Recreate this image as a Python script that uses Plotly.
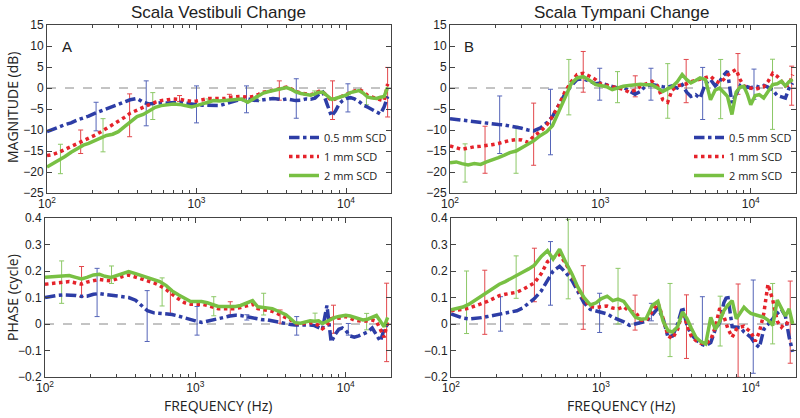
import plotly.graph_objects as go

# ---------------- data ----------------
freq = [100, 110, 120, 132, 145, 160, 175, 190, 210, 230,
        250, 275, 300, 330, 360, 400, 440, 480, 530, 580,
        640, 700, 770, 850, 930, 1000, 1100, 1200, 1300, 1420,
        1550, 1700, 1850, 2000, 2200, 2400, 2600, 2800, 3000, 3250,
        3500, 3750, 4000, 4300, 4600, 5000, 5400, 5800, 6200, 6600,
        7000, 7500, 8000, 8500, 9000, 9500, 10000, 10700, 11400, 12200,
        13000, 14000, 15000, 16000, 17000, 18000, 19000]

series_names = ["0.5 mm SCD", "1 mm SCD", "2 mm SCD"]

# Panel A: Scala Vestibuli magnitude (dB)
sv_mag_05 = [-10.4, -9.9, -9.3, -8.7, -8.3, -7.6, -7.2, -6.7, -6.0, -5.5,
             -5.1, -4.5, -3.9, -3.3, -2.8, -2.5, -3.4, -3.8, -3.6, -3.5,
             -3.6, -3.5, -3.4, -3.6, -3.9, -4.0, -4.1, -4.2, -4.3, -4.2,
             -3.8, -3.3, -3.0, -2.8, -2.6, -2.9, -3.0, -2.8, -2.6, -2.5,
             -2.6, -2.8, -2.6, -2.8, -3.0, -2.9, -2.6, -2.7, -2.4, -1.5,
             -1.0, -4.0, -6.7, -5.5, -3.8, -3.0, -2.5, -2.3, -2.6, -3.2,
             -4.0, -4.6, -5.2, -5.8, -6.2, -4.5, -2.0]
sv_mag_1 = [-16.1, -15.8, -15.3, -14.6, -14.0, -13.3, -12.6, -12.0, -11.2, -10.4,
            -9.6, -8.8, -8.0, -7.0, -6.0, -5.2, -4.6, -4.0, -3.4, -3.0,
            -2.8, -2.6, -2.7, -3.0, -3.2, -3.1, -2.8, -2.5, -2.5, -2.6,
            -2.5, -2.2, -2.0, -2.0, -2.2, -2.0, -1.5, -1.0, -0.8, -0.5,
            -0.4, -0.1, 0.2, -0.2, -0.8, -1.2, -1.5, -1.6, -1.3, -0.8,
            -0.9, -2.0, -3.0, -2.6, -2.2, -2.0, -1.6, -1.0, -0.7, -0.4,
            -0.8, -1.8, -2.2, -2.5, -2.8, -3.0, 1.0]
sv_mag_2 = [-18.8, -18.0, -17.2, -16.3, -15.3, -14.3, -13.6, -13.2, -12.5, -11.8,
            -11.3, -11.0, -10.4, -9.2, -8.0, -6.8, -6.3, -5.6, -4.6, -4.2,
            -3.9, -3.8, -3.9, -4.3, -4.5, -4.2, -3.8, -3.3, -3.0, -3.1,
            -3.0, -2.8, -2.6, -2.6, -3.4, -2.6, -1.8, -1.2, -0.9, -0.6,
            -0.4, -0.2, 0.1, -0.3, -0.9, -1.3, -1.6, -1.7, -1.4, -1.0,
            -1.0, -2.0, -2.7, -2.5, -2.2, -2.0, -1.7, -1.1, -0.8, -0.6,
            -1.2, -2.2, -2.4, -2.5, -2.2, -2.0, 0.2]

# Panel A: Scala Vestibuli phase (cycle)
sv_ph_05 = [0.100, 0.105, 0.108, 0.110, 0.110, 0.108, 0.104, 0.105, 0.112, 0.115,
            0.112, 0.108, 0.105, 0.103, 0.100, 0.090, 0.070, 0.050, 0.042, 0.040,
            0.038, 0.036, 0.030, 0.022, 0.016, 0.012, 0.006, 0.010, 0.016, 0.020,
            0.025, 0.030, 0.033, 0.032, 0.028, 0.024, 0.018, 0.016, 0.016, 0.012,
            0.006, 0.003, 0.000, -0.002, -0.004, -0.003, -0.002, -0.004, -0.006, -0.012,
            -0.020, 0.070, -0.068, -0.040, -0.020, -0.015, -0.025, -0.045, -0.050, -0.045,
            -0.038, -0.030, -0.015, -0.040, -0.065, -0.020, 0.000]
sv_ph_1 = [0.150, 0.152, 0.155, 0.158, 0.160, 0.155, 0.150, 0.158, 0.165, 0.168,
           0.165, 0.163, 0.170, 0.180, 0.185, 0.178, 0.170, 0.163, 0.155, 0.145,
           0.130, 0.112, 0.095, 0.080, 0.075, 0.075, 0.075, 0.070, 0.063, 0.058,
           0.058, 0.058, 0.058, 0.062, 0.068, 0.075, 0.058, 0.055, 0.052, 0.048,
           0.040, 0.032, 0.025, 0.015, 0.002, 0.000, 0.003, 0.005, 0.002, -0.005,
           -0.018, -0.005, 0.020, 0.025, 0.022, 0.025, 0.028, 0.022, 0.015, 0.012,
           0.010, 0.012, 0.015, 0.010, -0.020, -0.050, 0.010]
sv_ph_2 = [0.176, 0.178, 0.180, 0.182, 0.183, 0.176, 0.170, 0.176, 0.185, 0.188,
           0.180, 0.176, 0.183, 0.192, 0.198, 0.190, 0.182, 0.175, 0.168, 0.160,
           0.145, 0.125, 0.110, 0.095, 0.085, 0.085, 0.085, 0.080, 0.072, 0.066,
           0.066, 0.066, 0.066, 0.070, 0.078, 0.088, 0.065, 0.063, 0.062, 0.058,
           0.050, 0.042, 0.035, 0.020, 0.005, 0.003, 0.008, 0.012, 0.010, 0.012,
           0.002, 0.010, 0.020, 0.025, 0.028, 0.030, 0.033, 0.030, 0.025, 0.020,
           0.015, 0.018, 0.025, 0.032, 0.010, -0.010, 0.025]

# Panel B: Scala Tympani magnitude (dB)
st_mag_05 = [-7.3, -7.5, -7.7, -7.9, -8.1, -8.3, -8.5, -8.6, -8.7, -8.8,
             -9.0, -9.3, -9.6, -10.0, -10.2, -9.5, -8.3, -6.8, -4.0, -1.5,
             0.5, 2.0, 2.2, 1.5, 1.0, 1.2, 0.8, 0.4, 0.0, 0.2,
             -0.6, -1.5, -0.8, 0.5, 0.8, 0.5, 0.3, 0.2, 0.5, 0.0,
             0.8, -1.0, -2.0, -1.6, -2.4, 1.0, 2.0, 0.5, 1.5, 3.0,
             4.0, -3.6, -1.5, 0.5, -0.5, 0.3, 0.0, 0.5, 0.2, 0.6,
             0.2, -0.5, -1.8, -2.0, -2.4, 0.0, 1.2]
st_mag_1 = [-13.8, -14.3, -14.6, -14.3, -14.0, -13.9, -13.8, -13.5, -13.2, -12.8,
            -12.5, -12.3, -12.4, -12.9, -11.5, -10.3, -8.8, -6.8, -4.0, -1.0,
            1.5, 3.2, 3.5, 2.8, 2.0, 1.0, 0.6, 0.3, 0.1, -0.3,
            -1.0, -0.5, 0.4, 1.0, 1.6, 0.5, -2.8, -3.4, -0.5, 0.5,
            0.8, 1.0, 1.5, 1.8, 2.2, 2.5, 2.8, 1.8, 1.2, 2.0,
            3.0, 3.8, 4.4, 2.0, 0.5, 0.2, 0.0, -0.3, 0.0, 0.3,
            1.5, 3.5, 2.8, 1.6, 0.5, 0.8, 3.2]
st_mag_2 = [-17.8, -17.6, -18.0, -18.3, -18.0, -18.2, -17.6, -17.2, -16.6, -16.0,
            -15.4, -15.0, -14.3, -13.4, -12.6, -11.3, -10.4, -9.0, -5.5, -2.0,
            1.0, 2.4, 2.7, 1.8, 0.8, 0.6, 0.3, -0.4, 0.0, 0.4,
            0.6, 0.8, 0.9, 0.8, 0.8, 0.0, -0.8, -0.2, 0.3, 1.5,
            3.2, 2.0, 1.2, 1.8, 2.4, 2.0, -2.8, -0.5, 0.0, -1.0,
            -2.0, -6.3, -1.0, 0.2, 0.4, -1.5, -4.0, -1.8, -1.6, -2.4,
            -1.0, 0.8, 1.0, 1.6, 0.5, 1.5, 2.0]

# Panel B: Scala Tympani phase (cycle)
st_ph_05 = [0.038, 0.028, 0.022, 0.019, 0.020, 0.024, 0.028, 0.032, 0.038, 0.042,
            0.046, 0.050, 0.060, 0.080, 0.096, 0.125, 0.165, 0.200, 0.218, 0.195,
            0.165, 0.125, 0.080, 0.055, 0.048, 0.045, 0.038, 0.025, 0.018, 0.008,
            -0.005, 0.000, 0.004, 0.010, 0.035, 0.060, 0.020, -0.050, -0.045, 0.000,
            0.065, -0.005, -0.040, -0.060, -0.075, -0.082, -0.070, -0.020, 0.005, 0.080,
            0.110, -0.010, -0.012, -0.013, -0.030, -0.040, -0.050, -0.075, -0.088, -0.020,
            0.000, 0.020, 0.040, 0.055, 0.030, -0.050, -0.105]
st_ph_1 = [0.050, 0.052, 0.055, 0.060, 0.068, 0.075, 0.085, 0.095, 0.107, 0.112,
           0.116, 0.120, 0.130, 0.145, 0.155, 0.190, 0.235, 0.250, 0.262, 0.230,
           0.185, 0.135, 0.095, 0.065, 0.063, 0.065, 0.068, 0.060, 0.057, 0.065,
           0.048, 0.045, 0.015, 0.012, 0.048, 0.080, 0.020, -0.045, -0.055, -0.020,
           0.045, 0.000, -0.045, -0.063, -0.072, -0.075, -0.060, -0.010, 0.060, 0.030,
           -0.015, -0.050, -0.020, -0.012, -0.008, -0.020, -0.030, -0.065, -0.030, 0.040,
           0.150, 0.090, 0.010, -0.012, 0.006, 0.000, 0.013]
st_ph_2 = [0.054, 0.058, 0.064, 0.075, 0.090, 0.108, 0.122, 0.135, 0.150, 0.160,
           0.170, 0.182, 0.195, 0.208, 0.222, 0.255, 0.277, 0.245, 0.282, 0.235,
           0.190, 0.140, 0.100, 0.072, 0.080, 0.095, 0.105, 0.088, 0.094, 0.085,
           0.055, 0.025, 0.018, 0.020, 0.070, 0.085, 0.010, -0.025, -0.030, -0.010,
           0.045, 0.020, -0.015, -0.050, -0.065, -0.075, 0.025, -0.020, 0.010, 0.050,
           0.070, 0.088, 0.020, 0.045, 0.063, 0.050, 0.040, 0.035, 0.030, 0.025,
           0.015, -0.005, 0.090, 0.055, 0.030, 0.057, 0.000]

# Error bars: frequency, mean, half-range
sv_mag_err = {
    "0.5 mm SCD": ([213, 461, 1000, 2160, 4650, 10300],
                   [-6.8, -3.65, -3.9, -2.7, -2.5, -2.35],
                   [3.4, 5.35, 4.4, 3.2, 4.7, 3.35]),
    "1 mm SCD": ([168, 357, 770, 1660, 3580, 8130, 18980],
                 [-12.8, -6.5, -2.5, -2.1, -0.6, -2.9, -1.0],
                 [2.8, 5.1, 0.7, 0.6, 2.3, 4.6, 5.9]),
    "2 mm SCD": ([123, 237, 510, 1195, 2570, 6170, 13700],
                 [-16.9, -11.25, -4.3, -3.2, -2.4, -1.5, -2.8],
                 [3.5, 3.95, 3.2, 0.6, 0.6, 0.8, 1.2]),
}
sv_ph_err = {
    "0.5 mm SCD": ([222, 478, 1026, 2200, 4720, 10400],
                   [0.119, 0.030, 0.012, 0.025, -0.007, -0.020],
                   [0.091, 0.096, 0.054, 0.010, 0.035, 0.022]),
    "1 mm SCD": ([175, 682, 1706, 3660, 8290, 18700],
                 [0.160, 0.081, 0.059, 0.028, 0.018, 0.006],
                 [0.057, 0.047, 0.025, 0.025, 0.053, 0.148]),
    "2 mm SCD": ([129, 277, 601, 1325, 2845, 6250, 13770],
                 [0.158, 0.186, 0.121, 0.067, 0.075, 0.025, 0.009],
                 [0.080, 0.033, 0.053, 0.036, 0.041, 0.016, 0.031]),
}
st_mag_err = {
    "0.5 mm SCD": ([214, 466, 990, 2170, 4790, 10510],
                   [-8.75, -8.1, 0.9, 0.9, -1.3, 0.9],
                   [6.85, 7.8, 3.8, 3.8, 6.2, 3.6]),
    "1 mm SCD": ([171, 360, 769, 1706, 3720, 8220, 18710],
                 [-14.7, -11.0, 3.85, 0.4, 1.65, 3.35, 0.55],
                 [5.6, 7.4, 4.85, 2.5, 5.15, 4.85, 4.65]),
    "2 mm SCD": ([126, 275, 617, 1300, 2805, 6310, 13960],
                 [-17.85, -14.7, 0.2, 0.2, -0.7, -0.25, -1.5],
                 [4.55, 5.6, 6.6, 3.7, 6.5, 7.05, 8.35]),
}
st_ph_err = {
    "0.5 mm SCD": ([214, 461, 980, 2170, 4750, 10370],
                   [0.038, 0.191, 0.042, 0.045, 0.014, -0.010],
                   [0.065, 0.120, 0.074, 0.033, 0.089, 0.176]),
    "1 mm SCD": ([168, 360, 762, 1690, 3720, 8220, 18300],
                 [0.082, 0.185, 0.100, 0.043, -0.010, -0.025, 0.007],
                 [0.121, 0.101, 0.120, 0.066, 0.120, 0.176, 0.155]),
    "2 mm SCD": ([127, 272, 605, 1300, 2890, 6240, 13970],
                 [0.082, 0.177, 0.245, 0.105, 0.015, 0.011, 0.039],
                 [0.118, 0.080, 0.150, 0.105, 0.138, 0.094, 0.114]),
}

titles = ["Scala Vestibuli Change", "Scala Tympani Change"]
mag_ticks = [-25, -20, -15, -10, -5, 0, 5, 10, 15]
phase_ticks = [-0.2, -0.1, 0, 0.1, 0.2, 0.3, 0.4]
xtick_vals = [100, 1000, 10000]
xtick_text = ["10<sup>2</sup>", "10<sup>3</sup>", "10<sup>4</sup>"]
minor_vals = [200, 300, 400, 500, 600, 700, 800, 900,
              2000, 3000, 4000, 5000, 6000, 7000, 8000, 9000, 20000]

# ---------------- styling ----------------
colors = {"0.5 mm SCD": "#2d3da6", "1 mm SCD": "#e5232b", "2 mm SCD": "#78c043"}
err_colors = {"0.5 mm SCD": "#5565b8", "1 mm SCD": "#e2474c", "2 mm SCD": "#8cc866"}
dashes = {"0.5 mm SCD": "dashdot", "1 mm SCD": "dot", "2 mm SCD": "solid"}
W, H = 800, 418

def dom_x(a, b):
    return [a / W, b / W]

def dom_y(top, bottom):
    return [1 - bottom / H, 1 - top / H]

panels = [
    ("x", "y", dom_x(47, 391), dom_y(25, 193),
     {"0.5 mm SCD": sv_mag_05, "1 mm SCD": sv_mag_1, "2 mm SCD": sv_mag_2},
     sv_mag_err, [-25, 15], mag_ticks, "legend"),
    ("x2", "y2", dom_x(450, 796), dom_y(25, 193),
     {"0.5 mm SCD": st_mag_05, "1 mm SCD": st_mag_1, "2 mm SCD": st_mag_2},
     st_mag_err, [-25, 15], mag_ticks, "legend2"),
    ("x3", "y3", dom_x(45, 391), dom_y(218, 377),
     {"0.5 mm SCD": sv_ph_05, "1 mm SCD": sv_ph_1, "2 mm SCD": sv_ph_2},
     sv_ph_err, [-0.2, 0.4], phase_ticks, None),
    ("x4", "y4", dom_x(451, 796), dom_y(218, 377),
     {"0.5 mm SCD": st_ph_05, "1 mm SCD": st_ph_1, "2 mm SCD": st_ph_2},
     st_ph_err, [-0.2, 0.4], phase_ticks, None),
]

fig = go.Figure()
layout_axes = {}
shapes = []
tick_font = dict(family="Liberation Sans, Arial, sans-serif", size=12, color="#222")
for i, (xa, ya, xd, yd, series, errs, yr, yt, leg) in enumerate(panels):
    for name in series_names:
        ef, em, ee = errs[name]
        fig.add_trace(go.Scatter(
            x=ef, y=em, xaxis=xa, yaxis=ya, mode="markers",
            marker=dict(size=1, color=err_colors[name], opacity=0),
            error_y=dict(type="data", array=ee, visible=True,
                         color=err_colors[name], thickness=1, width=2.5),
            showlegend=False, hoverinfo="skip"))
    for name in series_names:
        if leg is not None:
            kw = dict(legend=leg, showlegend=True)
        else:
            kw = dict(showlegend=False)
        fig.add_trace(go.Scatter(
            x=freq, y=series[name], xaxis=xa, yaxis=ya, mode="lines",
            name=name,
            line=dict(color=colors[name], width=3.5, dash=dashes[name]),
            **kw))
    idx = "" if i == 0 else str(i + 1)
    layout_axes["xaxis" + idx] = dict(
        type="log", domain=xd, range=[2, 4.301], anchor=ya,
        tickvals=xtick_vals, ticktext=xtick_text,
        ticks="inside", ticklen=5, tickcolor="#444",
        minor=dict(ticks="inside", ticklen=3, tickvals=minor_vals, tickcolor="#444"),
        showline=True, linecolor="#444", linewidth=1, mirror="allticks",
        showgrid=False, zeroline=False, automargin=False,
        tickfont=tick_font,
    )
    layout_axes["yaxis" + idx] = dict(
        domain=yd, range=yr, anchor=xa, tickvals=yt,
        ticktext=[("−" + str(abs(v)) if v < 0 else str(v)) for v in yt],
        ticks="inside", ticklen=5, tickcolor="#444",
        showline=True, linecolor="#444", linewidth=1, mirror="allticks",
        showgrid=False, zeroline=False, automargin=False,
        tickfont=tick_font,
    )
    shapes.append(dict(type="line", xref=xa + " domain", yref=ya,
                       x0=0, x1=1, y0=0, y1=0,
                       line=dict(color="#888", width=1, dash="dash"), layer="below"))

fig.update_layout(**layout_axes)

title_font = dict(family="Liberation Sans, Arial, sans-serif", size=17, color="#222")
label_font = dict(family="Open Sans, Liberation Sans, sans-serif", size=14, color="#222")

def note(text, px, py, font, angle=0):
    return dict(text=text, x=px / W, y=1 - py / H, xref="paper", yref="paper",
                xanchor="center", yanchor="middle", showarrow=False,
                textangle=angle, font=font)

annotations = [
    note(titles[0], 218, 13, title_font),
    note(titles[1], 621, 13, title_font),
    note("MAGNITUDE (dB)", 12, 108, label_font, -90),
    note("PHASE (cycle)", 12, 298, label_font, -90),
    note("FREQUENCY (Hz)", 218, 405, label_font),
    note("FREQUENCY (Hz)", 621, 405, label_font),
    note("A", 67, 46, dict(family="Liberation Sans, Arial", size=15, color="#222")),
    note("B", 469, 46, dict(family="Liberation Sans, Arial", size=15, color="#222")),
]

legend_style = dict(font=dict(family="Open Sans, Liberation Sans, sans-serif", size=11, color="#222"),
                    bgcolor="rgba(0,0,0,0)", borderwidth=0, tracegroupgap=0,
                    xanchor="right", yanchor="bottom", itemwidth=30)

fig.update_layout(
    width=W, height=H,
    margin=dict(l=0, r=0, t=0, b=0, pad=0, autoexpand=False),
    paper_bgcolor="white", plot_bgcolor="white",
    showlegend=True,
    legend=dict(x=392 / W, y=1 - 190 / H, **legend_style),
    legend2=dict(x=797 / W, y=1 - 190 / H, **legend_style),
    annotations=annotations,
    shapes=shapes,
)

fig.write_html("out.html",
               config={"displayModeBar": False},
               post_script="document.body.style.margin='0px';document.body.style.padding='0px';")
